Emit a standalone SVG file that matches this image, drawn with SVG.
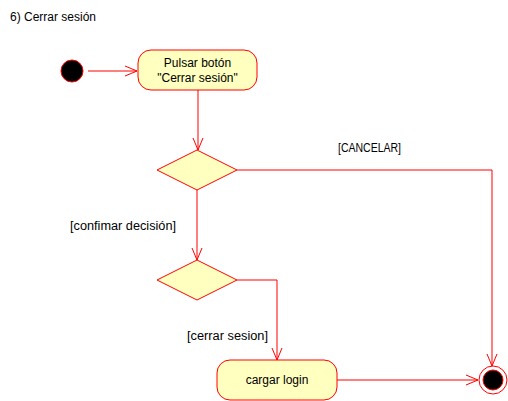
<svg xmlns="http://www.w3.org/2000/svg" width="508" height="401" viewBox="0 0 508 401">
<style>
text{font-family:"Liberation Sans",Arial,sans-serif;font-size:12px;fill:#000}
.node{fill:#ffffc0;stroke:#ff0000;stroke-width:1}
.edge{fill:none;stroke:#ff0000;stroke-width:1}
</style>
<defs>
<marker id="arr" markerWidth="14" markerHeight="12" refX="13" refY="6" orient="auto" markerUnits="userSpaceOnUse">
<path d="M1,1 L13,6 L1,11" fill="none" stroke="#ff0000" stroke-width="1"/>
</marker>
</defs>
<rect width="508" height="401" fill="#fff"/>
<text x="10" y="21">6) Cerrar sesión</text>
<g id="start"><circle cx="72" cy="71" r="11" fill="#000" stroke="#ff0000" stroke-width="1"/></g>
<g id="pulsar"><rect class="node" x="138" y="50" width="119" height="40" rx="13"/>
<text x="197.5" y="67" text-anchor="middle">Pulsar botón</text>
<text x="197.5" y="82" text-anchor="middle">"Cerrar sesión"</text></g>
<g id="decision1"><polygon class="node" points="197,150 237,170 197,190 157,170"/></g>
<g id="decision2"><polygon class="node" points="197,260 237,280 197,300 157,280"/></g>
<g id="cargar"><rect class="node" x="217" y="360" width="120" height="40" rx="13"/>
<text x="277" y="384" text-anchor="middle">cargar login</text></g>
<g id="final"><circle cx="493" cy="380" r="14" fill="#fff" stroke="#ff0000" stroke-width="1"/>
<circle cx="493" cy="380" r="10" fill="#000" stroke="#ff0000" stroke-width="1"/></g>
<g id="connectors">
<path class="edge" d="M88,71 L137,71" marker-end="url(#arr)"/>
<path class="edge" d="M198,90 L198,150" marker-end="url(#arr)"/>
<path class="edge" d="M237,170 L492,170 L492,366" marker-end="url(#arr)"/>
<path class="edge" d="M197,190 L197,260" marker-end="url(#arr)"/>
<path class="edge" d="M237,280 L277,280 L277,360" marker-end="url(#arr)"/>
<path class="edge" d="M337,380 L478,380" marker-end="url(#arr)"/>
</g>
<text x="338" y="152" font-size="11" textLength="63" lengthAdjust="spacingAndGlyphs">[CANCELAR]</text>
<text x="70" y="230" textLength="106" lengthAdjust="spacingAndGlyphs">[confimar decisión]</text>
<text x="187" y="340" textLength="81" lengthAdjust="spacingAndGlyphs">[cerrar sesion]</text>
</svg>
